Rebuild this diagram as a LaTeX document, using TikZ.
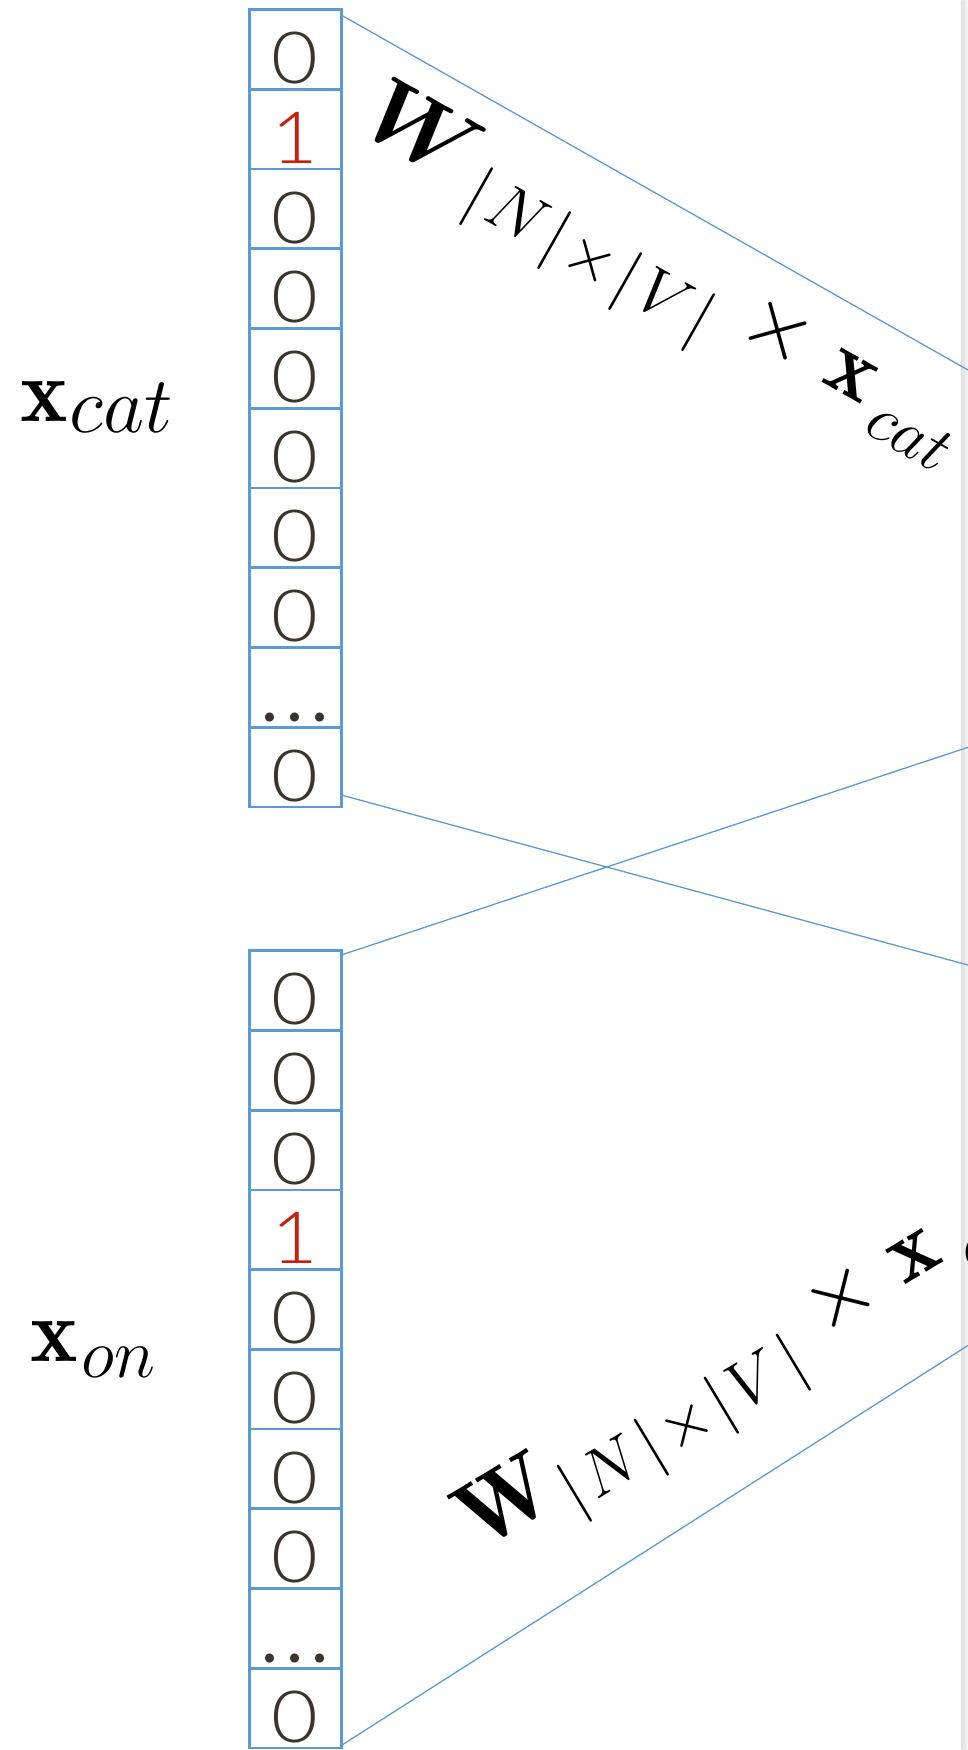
\documentclass[tikz,border=0pt]{standalone}
\usepackage{fix-cm}
\usepackage{amsmath}
\usepackage{fontspec}
\newfontfamily\digitfont{Lato Light}[FakeStretch=1.12]
\newfontfamily\dotfont{Lato}

\definecolor{cellblue}{RGB}{91,155,213}
\definecolor{digitgray}{RGB}{58,52,44}
\definecolor{hotred}{RGB}{200,32,12}

% one-hot entry and the elided rows
\newcommand{\hotone}{\textcolor{hotred}{1}}
\newcommand{\celldots}{{\dotfont.\kern8pt.\kern8pt.}}
% sizes used in the formulas
\newcommand{\mainsz}{\fontsize{90}{90}\selectfont}
\newcommand{\bigWsz}{\fontsize{94}{94}\selectfont}
\newcommand{\subsz}{\fontsize{66}{66}\selectfont}
\newcommand{\sk}{\kern6.4pt}
% the dimension subscript |N| x |V|
\newcommand{\dimsub}{\subsz$|\sk N\sk|\sk{\times}\sk|\sk V\sk|$}

\tikzset{
  cellbox/.style={draw=cellblue, line width=2.7pt, minimum width=91.7pt,
    minimum height=79.74pt, inner sep=0pt, outer sep=0pt,
    text height=68.3pt, text depth=0pt, text=digitgray,
    font=\digitfont\fontsize{72}{72}\selectfont},
  wire/.style={draw=cellblue, line width=1.3pt},
  vecname/.style={inner sep=0pt, outer sep=0pt, anchor=base west},
  product/.style={inner sep=0pt, outer sep=0pt, anchor=base west}
}

\begin{document}
\begin{tikzpicture}[x=1pt, y=-1pt]
  \useasboundingbox (0,0) rectangle (968,1750);
  \clip (0,0) rectangle (968,1750);

  % page edge shadow
  \shade[left color=black!12, right color=black!3] (961.5,0) rectangle (968,1750);

  % one-hot vector for "cat"
  \foreach \v [count=\i] in {0,\hotone,0,0,0,0,0,0,\celldots,0}
    \node[cellbox] (a\i) at (295.35, {49.37+(\i-1)*79.74}) {\v};

  % one-hot vector for "on"
  \foreach \v [count=\i] in {0,0,0,\hotone,0,0,0,0,\celldots,0}
    \node[cellbox] (b\i) at (295.35, {990.57+(\i-1)*79.73}) {\v};

  % vector names
  \node[vecname] (xcat) at (20,421.7)
    {{\mainsz$\mathbf{x}$}\kern2pt\raisebox{-10.6pt}{\fontsize{80}{80}\selectfont$cat$}};
  \node[vecname] (xon) at (30,1361.7)
    {{\mainsz$\mathbf{x}$}\kern4pt\raisebox{-15.6pt}{\fontsize{70}{70}\selectfont$on$}};

  % projections towards the hidden layer
  \node[product, rotate=-29.5] (wcat) at (361,121.4)
    {\raisebox{-9pt}{\bigWsz$\boldsymbol{W}$}\kern10.5pt%
     \raisebox{-25.3pt}{\dimsub}%
     \hspace{29.6pt}{\mainsz$\times$}%
     \hspace{25.8pt}{\mainsz$\mathbf{x}$}%
     \hspace{14.4pt}\raisebox{-23.1pt}{\subsz$cat$}};
  \node[product, rotate=31] (won) at (474,1544.3)
    {\raisebox{-9.6pt}{\bigWsz$\mathbf{W}$}\kern5.8pt%
     \raisebox{-25pt}{\dimsub}%
     \hspace{29.6pt}{\mainsz$\times$}%
     \hspace{25.8pt}{\mainsz$\mathbf{x}$}%
     \hspace{17pt}\raisebox{-23pt}{\subsz$on$}};

  % free ends on the right border
  \coordinate (r1) at (968,370);
  \coordinate (r2) at (968,965);
  \coordinate (r3) at (968,747.3);
  \coordinate (r4) at (968,1345.4);

  \draw[wire] ([yshift=-5.5pt]a1.north east) -- (r1);
  \draw[wire] ([yshift=11.9pt]a10.south east) -- (r2);
  \draw[wire] ([yshift=-4.3pt]b1.north east) -- (r3);
  \draw[wire] ([yshift=2.5pt]b10.south east) -- (r4);
\end{tikzpicture}
\end{document}
